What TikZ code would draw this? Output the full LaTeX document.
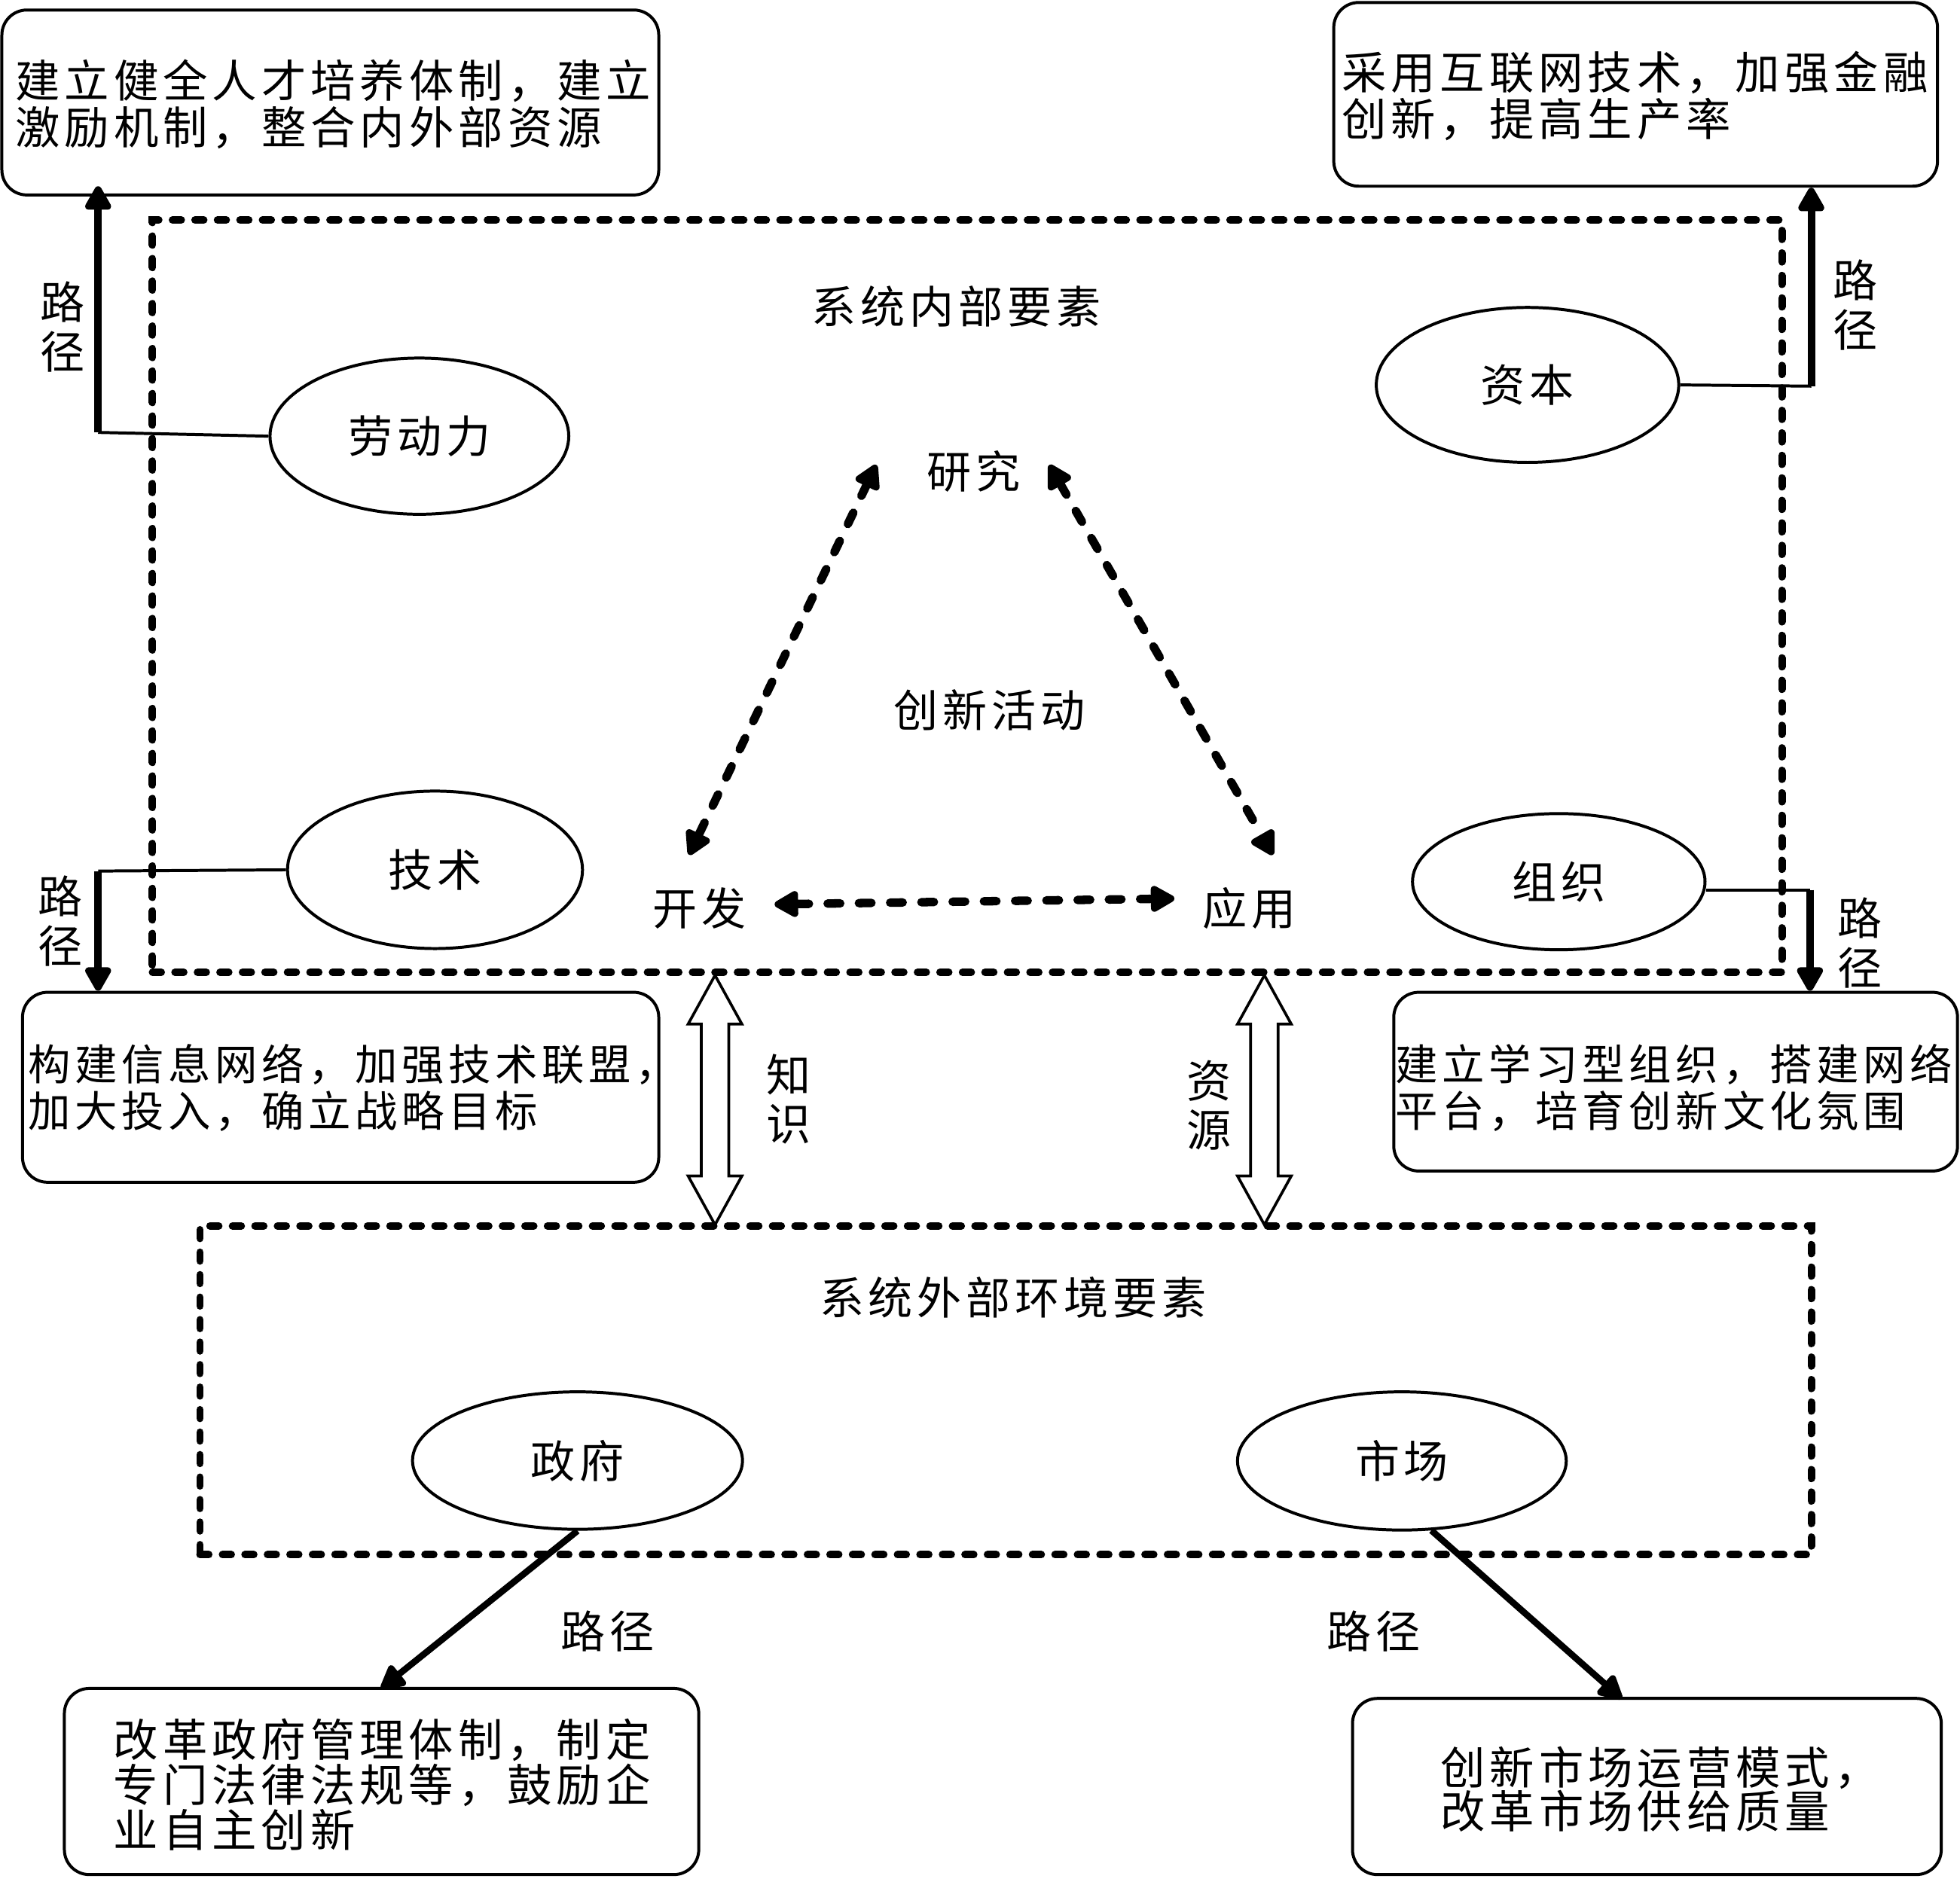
\documentclass[tikz,border=0pt]{standalone}
\usepackage{fontspec}
\setmainfont{Noto Sans CJK SC}[LetterSpace=10]
\usetikzlibrary{arrows.meta,shapes.geometric,calc}
\lineskiplimit=-100pt
\newcommand\hollowarrow[3]{%
  \draw[hollow] (#1,#2) -- (#1+21.5,#2+39) -- (#1+11,#2+39) -- (#1+11,#3-39) -- (#1+21.5,#3-39) -- (#1,#3)
    -- (#1-21.5,#3-39) -- (#1-11,#3-39) -- (#1-11,#2+39) -- (#1-21.5,#2+39) -- cycle;}
\tikzset{
 rbox/.style={draw, line width=1.2pt, rounded corners=10pt, inner sep=0pt},
 ell/.style={draw, ellipse, line width=1.2pt, inner sep=0pt, font=\fontsize{17.8pt}{17.8pt}\selectfont},
 dbox/.style={draw, line width=3pt, line cap=round, dash pattern=on 3.5pt off 5.5pt, inner sep=0pt},
 big/.style={font=\fontsize{17.9pt}{18.5pt}\selectfont, inner sep=0pt, align=left},
 mid/.style={font=\fontsize{17pt}{18.5pt}\selectfont, inner sep=0pt, align=left},
 lbl/.style={font=\fontsize{17.8pt}{17.8pt}\selectfont, inner sep=0pt, align=center},
 vlbl/.style={font=\fontsize{17.8pt}{19.8pt}\selectfont, inner sep=0pt, align=center},
 thinline/.style={line width=1.2pt},
 patharrow/.style={line width=3pt, -{Triangle[length=11pt,width=11.5pt,round]}},
 diagarrow/.style={line width=2.6pt, -{Triangle[length=11pt,width=11pt,round]}},
 dasharrow/.style={line width=3.4pt, line cap=round, dash pattern=on 5pt off 7.5pt,
   {Triangle[length=11pt,width=11.5pt,round]}-{Triangle[length=11pt,width=11.5pt,round]}},
 hollow/.style={draw, fill=white, line width=1.1pt, line join=miter},
}
\begin{document}
\begin{tikzpicture}[x=0.5pt,y=-0.5pt]
\useasboundingbox (0,0) rectangle (1568,1503);

% dashed frames
\node[dbox, minimum width=651.75pt, minimum height=301pt] (inner) at (773.75,477) {};
\node[dbox, minimum width=644.5pt, minimum height=131.5pt] (outer) at (804.5,1112.5) {};

% rounded boxes
\node[rbox, minimum width=262.75pt, minimum height=74pt] (b1) at (264.25,82) {};
\node[rbox, minimum width=241.5pt, minimum height=73.5pt] (b2) at (1308.5,75.5) {};
\node[rbox, minimum width=254.5pt, minimum height=76pt] (b3) at (272.5,870) {};
\node[rbox, minimum width=225.5pt, minimum height=71.5pt] (b4) at (1340.5,865.5) {};
\node[rbox, minimum width=253.75pt, minimum height=74.5pt] (b5) at (305.25,1425.5) {};
\node[rbox, minimum width=235.5pt, minimum height=70.5pt] (b6) at (1317.5,1429.5) {};

% box texts
\node[big, anchor=west] (t1) at (12,83.5) {建立健全人才培养体制，建立\\激励机制，整合内外部资源};
\node[big, anchor=west] (t2) at (1073,76.75) {采用互联网技术，加强金融\\创新，提高生产率};
\node[mid, anchor=west] (t3) at (22,870.5) {构建信息网络，加强技术联盟，\\加大投入，确立战略目标};
\node[mid, anchor=west] (t4) at (1116,870.5) {建立学习型组织，搭建网络\\平台，培育创新文化氛围};
\node[big, anchor=west, font=\fontsize{17.9pt}{18pt}\selectfont] (t5) at (90.5,1428) {改革政府管理体制，制定\\专门法律法规等，鼓励企\\业自主创新};
\node[big, anchor=west, font=\fontsize{17.9pt}{17.6pt}\selectfont] (t6) at (1152,1431.5) {创新市场运营模式，\\改革市场供给质量};

% ellipses
\node[ell, minimum width=119.5pt, minimum height=62.5pt] (ldl) at (335.5,349) {劳动力};
\node[ell, minimum width=121pt, minimum height=62pt] (zb) at (1222,308) {资本};
\node[ell, minimum width=118pt, minimum height=63pt] (js) at (348,696) {技术};
\node[ell, minimum width=117pt, minimum height=54.5pt] (zz) at (1247,705.5) {组织};
\node[ell, minimum width=132pt, minimum height=55pt] (zf) at (462,1168.7) {政府};
\node[ell, minimum width=131.5pt, minimum height=55.3pt] (sc) at (1121.5,1169) {市场};

% labels
\node[lbl] (nb) at (765,245) {系统内部要素};
\node[lbl] (wb) at (810.5,1038) {系统外部环境要素};
\node[lbl] (yj) at (779,377) {研究};
\node[lbl] (kf) at (559.5,727) {开发};
\node[lbl] (yy) at (999.5,727) {应用};
\node[lbl] (cx) at (791.5,568) {创新活动};
\node[vlbl] (lj1) at (50,261.5) {路\\径};
\node[vlbl] (lj2) at (1484,244) {路\\径};
\node[vlbl] (lj3) at (48,737) {路\\径};
\node[vlbl] (lj4) at (1488,754.5) {路\\径};
\node[vlbl] (zs) at (631,879.5) {知\\识};
\node[vlbl] (zy) at (967,884.5) {资\\源};
\node[lbl] (lj5) at (486,1305) {路径};
\node[lbl] (lj6) at (1099,1305) {路径};

% path connectors
\coordinate (c1) at (78.5,346);
\coordinate (e1) at (78.5,149);
\draw[thinline] (ldl.west) -- (c1);
\draw[patharrow] (c1) -- (e1);

\coordinate (c2) at (1449,309);
\draw[thinline] (zb.east) -- (c2);
\draw[patharrow] (c2) -- (c2 |- b2.south);

\coordinate (c3) at (78.5,697);
\draw[thinline] (js.west) -- (c3);
\draw[patharrow] (c3) -- (c3 |- b3.north);

\coordinate (c4) at (1448,712);
\draw[thinline] (c4 -| zz.east) -- (c4);
\draw[patharrow] (c4) -- (c4 |- b4.north);

\coordinate (e5) at (305,1351);
\draw[diagarrow] (zf.south) -- (e5);
\coordinate (e6) at (1297.4,1359.3);
\draw[diagarrow] (sc.-67) -- (e6);

% innovation triangle
\coordinate (a1) at (701,372);
\coordinate (a2) at (551.3,684);
\coordinate (a3) at (839.5,372);
\coordinate (a4) at (1018.3,684);
\coordinate (a5) at (619.7,723.6);
\coordinate (a6) at (939.5,719);
\draw[dasharrow] (a1) -- (a2);
\draw[dasharrow] (a3) -- (a4);
\draw[dasharrow] (a5) -- (a6);

% hollow double arrows
\hollowarrow{572}{780.4}{980}
\hollowarrow{1011.5}{780.4}{980}
\end{tikzpicture}
\end{document}
